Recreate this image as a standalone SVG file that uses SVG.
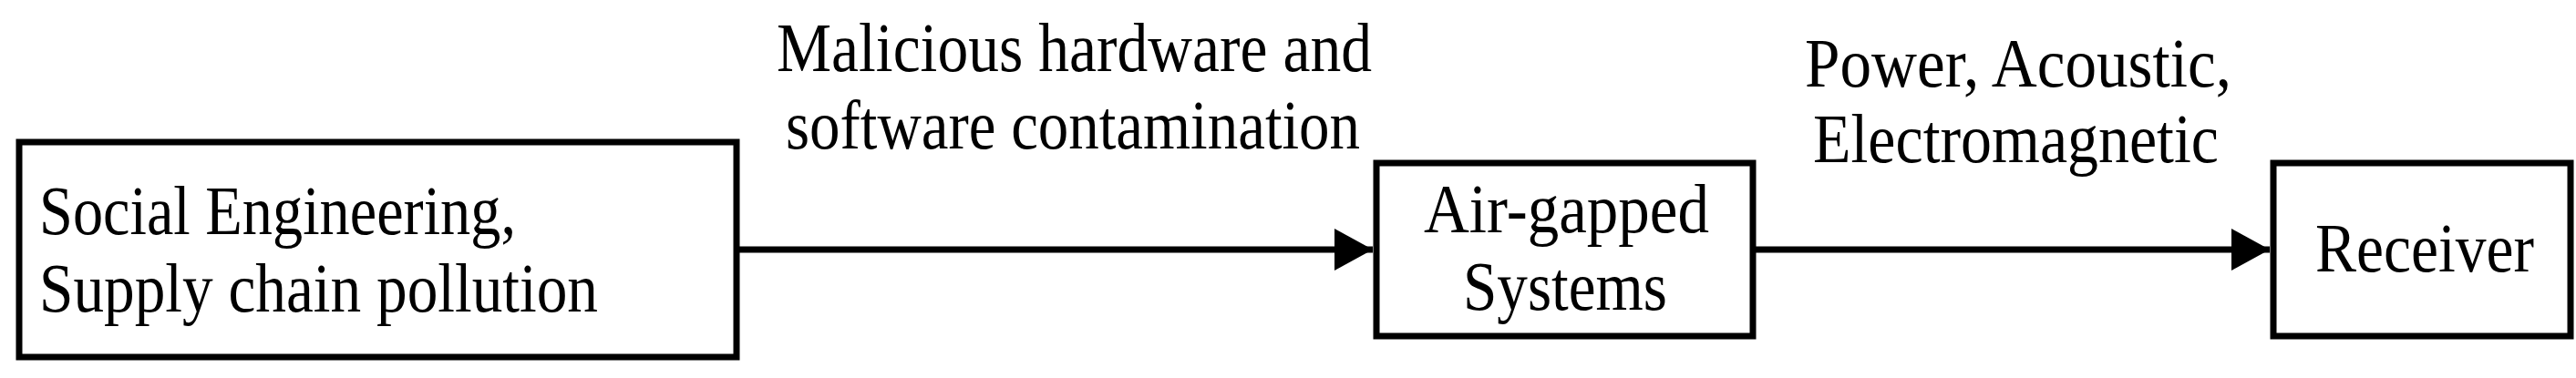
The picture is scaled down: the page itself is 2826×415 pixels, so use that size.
<svg xmlns="http://www.w3.org/2000/svg" width="2826" height="415" viewBox="0 0 2826 415">
<style>
.b{fill:#fff;stroke:#000;stroke-width:7}
.t{font-family:"Liberation Serif",serif;font-size:76px;fill:#000}
.c{stroke:#000;stroke-width:7;fill:none}
</style>
<defs><marker id="a" markerWidth="42" markerHeight="46" refX="42" refY="23" orient="auto" markerUnits="userSpaceOnUse" viewBox="0 0 42 46"><path d="M0,0L42,23L0,46z" fill="#000"/></marker></defs>
<rect width="2826" height="415" fill="#fff"/>
<g id="n1"><rect class="b" x="21" y="156" width="787" height="236"/>
<text class="t" x="43" y="257" textLength="523" lengthAdjust="spacingAndGlyphs">Social Engineering,</text>
<text class="t" x="43" y="342" textLength="613" lengthAdjust="spacingAndGlyphs">Supply chain pollution</text></g>
<g id="n2"><rect class="b" x="1510" y="179" width="413" height="190"/>
<text class="t" x="1562" y="255" textLength="313" lengthAdjust="spacingAndGlyphs">Air-gapped</text>
<text class="t" x="1605" y="340" textLength="224" lengthAdjust="spacingAndGlyphs">Systems</text></g>
<g id="n3"><rect class="b" x="2494" y="179" width="326" height="190"/>
<text class="t" x="2540" y="298" textLength="240" lengthAdjust="spacingAndGlyphs">Receiver</text></g>
<g id="edges">
<line class="c" x1="808" y1="274" x2="1506" y2="274" marker-end="url(#a)"/>
<line class="c" x1="1923" y1="274" x2="2490" y2="274" marker-end="url(#a)"/>
<text class="t" x="852" y="78" textLength="653" lengthAdjust="spacingAndGlyphs">Malicious hardware and</text>
<text class="t" x="862" y="163" textLength="630" lengthAdjust="spacingAndGlyphs">software contamination</text>
<text class="t" x="1980" y="95" textLength="468" lengthAdjust="spacingAndGlyphs">Power, Acoustic,</text>
<text class="t" x="1989" y="178" textLength="445" lengthAdjust="spacingAndGlyphs">Electromagnetic</text>
</g>
</svg>
